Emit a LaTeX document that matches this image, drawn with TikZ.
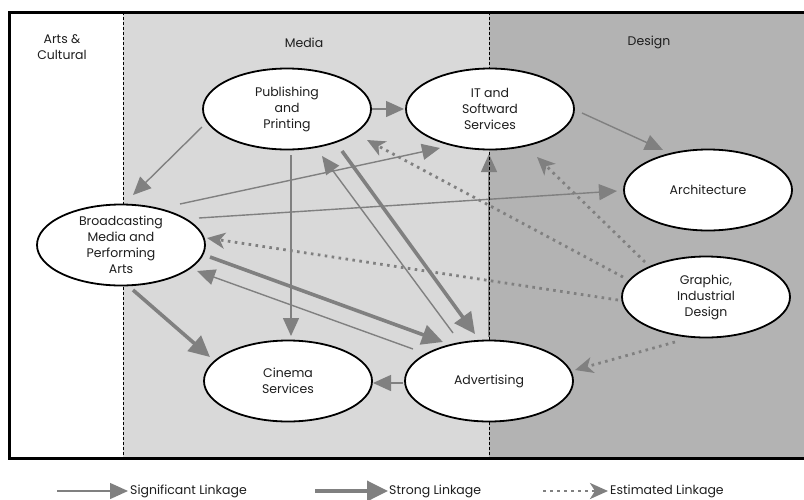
\documentclass[tikz,border=0pt]{standalone}
\usepackage{fontspec}
\setmainfont{Poppins}
\usetikzlibrary{arrows.meta,shapes.geometric,calc}
\definecolor{lnk}{HTML}{808080}
\definecolor{mediabg}{HTML}{D9D9D9}
\definecolor{designbg}{HTML}{B3B3B3}
\definecolor{ink}{HTML}{1E1E1E}
\newcommand{\lblfont}{\fontsize{12.5}{16}\selectfont}
\tikzset{
  sector/.style={ellipse, draw=black, line width=1.8pt, fill=white, inner sep=-10pt,
    align=center, font=\lblfont, text=ink, minimum width=168pt, minimum height=81pt},
  region/.style={align=center, font=\lblfont, text=ink, inner sep=0pt},
  divider/.style={draw=black, line width=1pt, dash pattern=on 3pt off 2pt},
  thinlink/.style={draw=lnk, line width=1.4pt, -{Triangle[length=18pt,width=16pt]}},
  thicklink/.style={draw=lnk, line width=3.6pt, -{Triangle[length=21pt,width=20pt]}},
  dotlink/.style={draw=lnk, line width=2.8pt, dash pattern=on 2.6pt off 4.4pt,
    -{Stealth[length=18pt,width=16pt,inset=5pt]}},
  legtext/.style={anchor=west, font=\lblfont, text=ink, inner sep=0pt}
}
\begin{document}
\begin{tikzpicture}[x=1pt,y=-1pt]
\useasboundingbox (0,0) rectangle (804,499);
% backgrounds
\fill[mediabg] (123,12) rectangle (489,458);
\fill[designbg] (489,12) rectangle (804,458);
% region labels
\node[region] (rarts) at (62,47) {Arts \&\\Cultural};
\node[region] (rmedia) at (304,43) {Media};
\node[region] (rdesign) at (649,42) {Design};
% sector centres
\path (287,109) coordinate (pub)
      (490,109) coordinate (it)
      (708,190) coordinate (arch)
      (121,245) coordinate (brd)
      (288,381) coordinate (cin)
      (489,381) coordinate (adv)
      (706,297) coordinate (gra);
% connectors: significant
\draw[thinlink] ($(pub)+(85,0)$) -- ($(it)+(-86,0)$);
\draw[thinlink] ($(pub)+(-85,18)$) -- ($(brd)+(12,-50)$);
\draw[thinlink] ($(it)+(92,4)$) -- ($(arch)+(-45,-40)$);
\draw[thinlink] ($(pub)+(4,46)$) -- ($(cin)+(3,-45)$);
\draw[thinlink] ($(brd)+(59,-41)$) -- ($(it)+(-50,39)$);
\draw[thinlink] ($(brd)+(78,-27)$) -- ($(arch)+(-91,1)$);
\draw[thinlink] ($(adv)+(-86,2)$) -- ($(cin)+(85,2)$);
\draw[thinlink] ($(adv)+(0,-44)$) -- ($(it)+(-1,45)$);
\draw[thinlink] ($(adv)+(-76,-32)$) -- ($(brd)+(76,26)$);
\draw[thinlink] ($(adv)+(-36,-48)$) -- ($(pub)+(35,47)$);
% connectors: strong
\draw[thicklink] ($(brd)+(12,45)$) -- ($(cin)+(-78,-24)$);
\draw[thicklink] ($(brd)+(89,12)$) -- ($(adv)+(-46,-39)$);
\draw[thicklink] ($(pub)+(55,42)$) -- ($(adv)+(-14,-47)$);
% connectors: estimated
\draw[dotlink] ($(gra)+(-88,3)$) -- ($(brd)+(86,-7)$);
\draw[dotlink] ($(gra)+(-83,-20)$) -- ($(pub)+(80,31)$);
\draw[dotlink] ($(gra)+(-61,-35)$) -- ($(it)+(47,48)$);
\draw[dotlink] ($(gra)+(-31,45)$) -- ($(adv)+(86,-11)$);
% dividers
\draw[divider] (123,12) coordinate (d1t) -- (123,458) coordinate (d1b);
\draw[divider] (489,12) coordinate (d2t) -- (489,458) coordinate (d2b);
% frame
\draw[line width=3pt] (804,12) coordinate (ftr) -- (9.5,12) coordinate (ftl) -- (9.5,458) coordinate (fbl) -- (804,458) coordinate (fbr);
% sector ellipses
\node[sector] (npub) at (pub) {Publishing\\and\\Printing};
\node[sector] (nit) at (it) {IT and\\Softward\\Services};
\node[sector] (narch) at (arch) {Architecture};
\node[sector] (nbrd) at (brd) {Broadcasting\\Media and\\Performing\\Arts};
\node[sector] (ncin) at (cin) {Cinema\\Services};
\node[sector] (nadv) at (adv) {Advertising};
\node[sector] (ngra) at (gra) {Graphic,\\Industrial\\Design};
% legend
\coordinate (l1s) at (57,491);
\node[legtext] (lg1) at (130,491) {Significant Linkage};
\draw[thinlink] (l1s) -- ($(lg1.west)+(-2,0)$);
\coordinate (l2s) at (315,491);
\node[legtext] (lg2) at (389,491) {Strong Linkage};
\draw[thicklink] (l2s) -- ($(lg2.west)+(-1,0)$);
\coordinate (l3s) at (543,491);
\node[legtext] (lg3) at (610,491) {Estimated Linkage};
\draw[dotlink] (l3s) -- ($(lg3.west)+(-2,0)$);
\end{tikzpicture}
\end{document}
